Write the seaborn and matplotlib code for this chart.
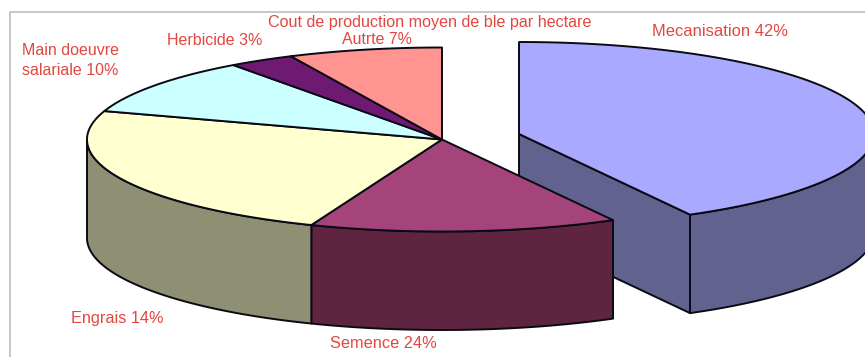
import numpy as np
import matplotlib
matplotlib.use("Agg")
import matplotlib.pyplot as plt
import seaborn as sns
from matplotlib.patches import Polygon

# Data (slice sizes in drawing order, clockwise from 12 o'clock)
slice_names = ["Mecanisation", "Semence", "Engrais", "Main doeuvre", "Herbicide", "Autrte"]
slice_shares = [42, 14, 24, 10, 3, 7]
top_colors = ["#A9A9FF", "#A4447A", "#FFFFD0", "#CCFFFF", "#6F1A72", "#FF9490"]
side_colors = ["#62628F", "#5E2440", "#8F8F74", "#70808A", "#3A1040", "#8F5250"]

title_text = "Cout de production moyen de ble par hectare"
label_texts = ["Mecanisation 42%", "Semence 24%", "Engrais 14%",
               "Main doeuvre\nsalariale 10%", "Herbicide 3%", "Autrte 7%"]

sns.set_theme(style="white")
plt.rcParams["font.family"] = ["Liberation Sans", "DejaVu Sans"]

RX, RY, DEPTH = 355, 92, 98.5
CENTER = (442, 139.5)
EXPLODED_CENTER = (519, 134)
RED = "#E2473F"
EDGE = dict(edgecolor="#0A0A14", linewidth=1.4, joinstyle="round")

fig, ax = plt.subplots(figsize=(8.65, 3.57), dpi=100)
fig.subplots_adjust(0, 0, 1, 1)
ax.set_xlim(0, 865)
ax.set_ylim(357, 0)
ax.axis("off")


def arc(c, a0, a1, dy=0):
    t = np.radians(np.linspace(a0, a1, max(int(abs(a1 - a0) * 2), 2)))
    return np.column_stack([c[0] + RX * np.sin(t), c[1] - RY * np.cos(t) + dy])


def draw_slice(c, a0, a1, top, side, z):
    lo, hi = max(a0, 90), min(a1, 270)
    if hi > lo:
        upper = arc(c, lo, hi)
        lower = arc(c, lo, hi, DEPTH)
        ax.add_patch(Polygon(np.vstack([upper, lower[::-1]]), closed=True,
                             facecolor=side, zorder=z, **EDGE))
    ax.add_patch(Polygon(np.vstack([[c], arc(c, a0, a1)]), closed=True,
                         facecolor=top, zorder=z + 1, **EDGE))


edges = np.concatenate([[0], np.cumsum(slice_shares)]) / sum(slice_shares) * 360

# Exploded first slice, with its visible cut face, sits behind the rest
a0, a1 = edges[0], edges[1]
corner = arc(EXPLODED_CENTER, a1, a1 + 0.01)[0]
cut_face = np.array([EXPLODED_CENTER, corner, corner + [0, DEPTH],
                     np.array(EXPLODED_CENTER) + [0, DEPTH]])
ax.add_patch(Polygon(cut_face, closed=True, facecolor=side_colors[0], zorder=1, **EDGE))
draw_slice(EXPLODED_CENTER, a0, a1, top_colors[0], side_colors[0], 2)

for i in range(1, len(slice_shares)):
    draw_slice(CENTER, edges[i], edges[i + 1], top_colors[i], side_colors[i], 4)

# Chart-area frame
ax.plot([9.5, 9.5, 865], [357, 11.5, 11.5], color="#BDBDBD", lw=1.2, zorder=0)

ax.text(430, 22, title_text, color=RED, fontsize=11.6, ha="center", va="center", zorder=6)
label_xy = [(720.5, 32, "center"), (383.5, 343, "center"), (117.5, 319, "center"),
            (22, 60.5, "left"), (214.5, 40.5, "center"), (376.5, 40, "center")]
label_sizes = [11.9, 11.8, 11.7, 11.5, 11.5, 11.4]
for text, (x, y, ha), size in zip(label_texts, label_xy, label_sizes):
    ax.text(x, y, text, color=RED, fontsize=size, ha=ha, va="center",
            linespacing=1.36, zorder=6)

fig.savefig("out.png", dpi=100)
